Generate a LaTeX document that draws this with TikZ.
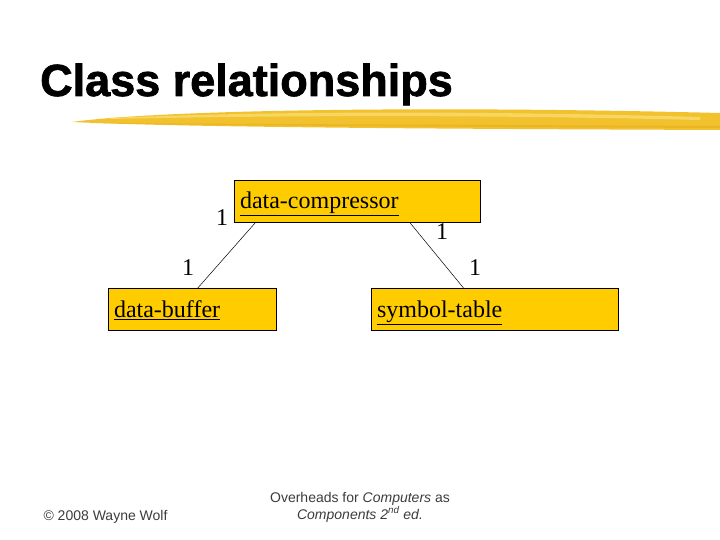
\documentclass[tikz,border=0pt]{standalone}
\usepackage{fontspec}
\setmainfont{Liberation Sans}
\newfontfamily\serifface{Liberation Serif}
\newfontfamily\titleface[FakeBold=1.6]{Liberation Sans Bold}
\usepackage{tikz}
\usetikzlibrary{positioning, calc}
\definecolor{boxgold}{HTML}{FFCC00}
\definecolor{brushgold}{HTML}{F2C12E}
\definecolor{brushlight}{HTML}{F9DC70}
\definecolor{brushdark}{HTML}{E6AE1A}
\definecolor{footgray}{HTML}{3C3C3C}

\begin{document}
\begin{tikzpicture}[x=1pt, y=-1pt,
  classbox/.style={draw=black, line width=0.7pt, fill=boxgold, minimum height=42pt, inner xsep=6pt, text height=20pt, text depth=4pt, align=left, font=\serifface\fontsize{24}{26}\selectfont},
  mult/.style={font=\serifface\fontsize{24}{26}\selectfont},
  foot/.style={text=footgray, font=\fontsize{14}{17}\selectfont}]
\useasboundingbox (0,0) rectangle (720,540);
\node[anchor=base west, inner sep=0pt, font=\titleface\fontsize{45}{50}\selectfont] (title) at (40,96) {Class relationships};
% brush stroke under the title
\fill[brushgold] (72,122) .. controls (150,111) and (400,105) .. (720,113) -- (720,130) .. controls (500,129) and (200,128) .. (72,122) -- cycle;
\fill[brushlight, opacity=0.8] (110,118) .. controls (250,112) and (450,110) .. (700,117) -- (700,120) .. controls (450,114) and (250,116) .. (110,119) -- cycle;
\fill[brushdark, opacity=0.6] (90,123) .. controls (250,124) and (500,125) .. (720,126) -- (720,128) .. controls (500,127) and (250,126) .. (90,123) -- cycle;
\node[classbox, text width=234pt] (comp) at (357,201) {\underline{data-compressor}};
\node[classbox, text width=156pt] (buf) at (192,309.5) {\underline{data-buffer}};
\node[classbox, text width=235pt] (sym) at (494.5,309.5) {\underline{symbol-table}};
\draw[line width=0.5pt] ([xshift=22pt]comp.south west) -- ([xshift=90pt]buf.north west);
\draw[line width=0.5pt] ([xshift=176pt]comp.south west) -- ([xshift=93pt]sym.north west);
\foreach \px/\py in {222/218, 442/232, 188/268, 475/268} { \node[mult] (m\px) at (\px,\py) {1}; }
\node[foot, anchor=base west] (copy) at (40,520) {\textcopyright{} 2008 Wayne Wolf};
\node[foot, align=center] (book) at (360,507) {Overheads for \textit{Computers} as\\ \textit{Components 2\textsuperscript{nd} ed.}};
\end{tikzpicture}
\end{document}
